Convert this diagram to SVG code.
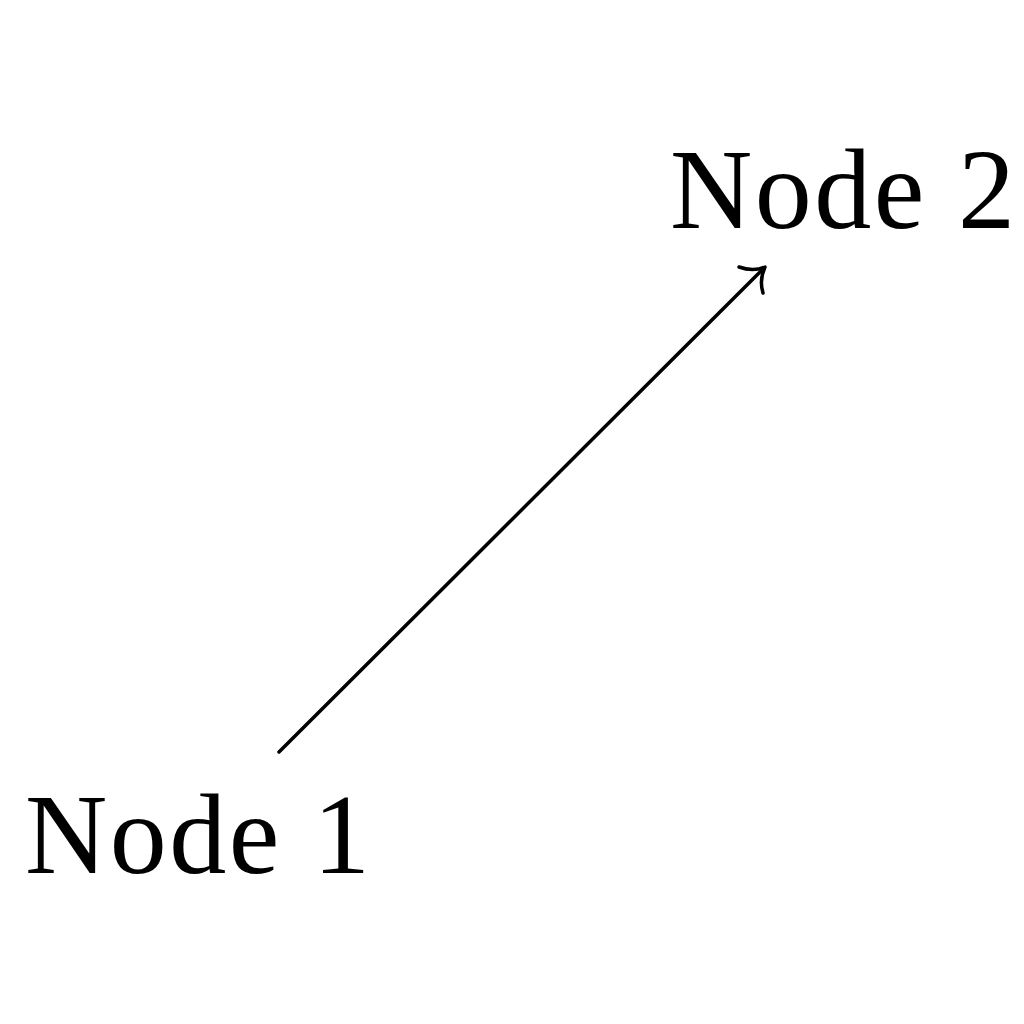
<svg xmlns="http://www.w3.org/2000/svg" width="1024" height="1024" viewBox="0 0 1024 1024">
<style>
.lbl{font-family:"Liberation Serif","DejaVu Serif",serif;font-size:114px;fill:#000}
.edge{stroke:#000;stroke-width:3.5;fill:none;stroke-linecap:round;stroke-linejoin:round}
</style>
<rect width="1024" height="1024" fill="#fff"/>
<g id="node1"><text class="lbl" x="25" y="873" textLength="345" lengthAdjust="spacing">Node 1</text></g>
<g id="node2"><text class="lbl" x="670" y="228" textLength="345" lengthAdjust="spacing">Node 2</text></g>
<g id="connectors">
<path class="edge" d="M279,752 L763,269"/>
<path class="edge" d="M739,267 Q753,272 765,267 Q759,280 763,293"/>
</g>
</svg>
